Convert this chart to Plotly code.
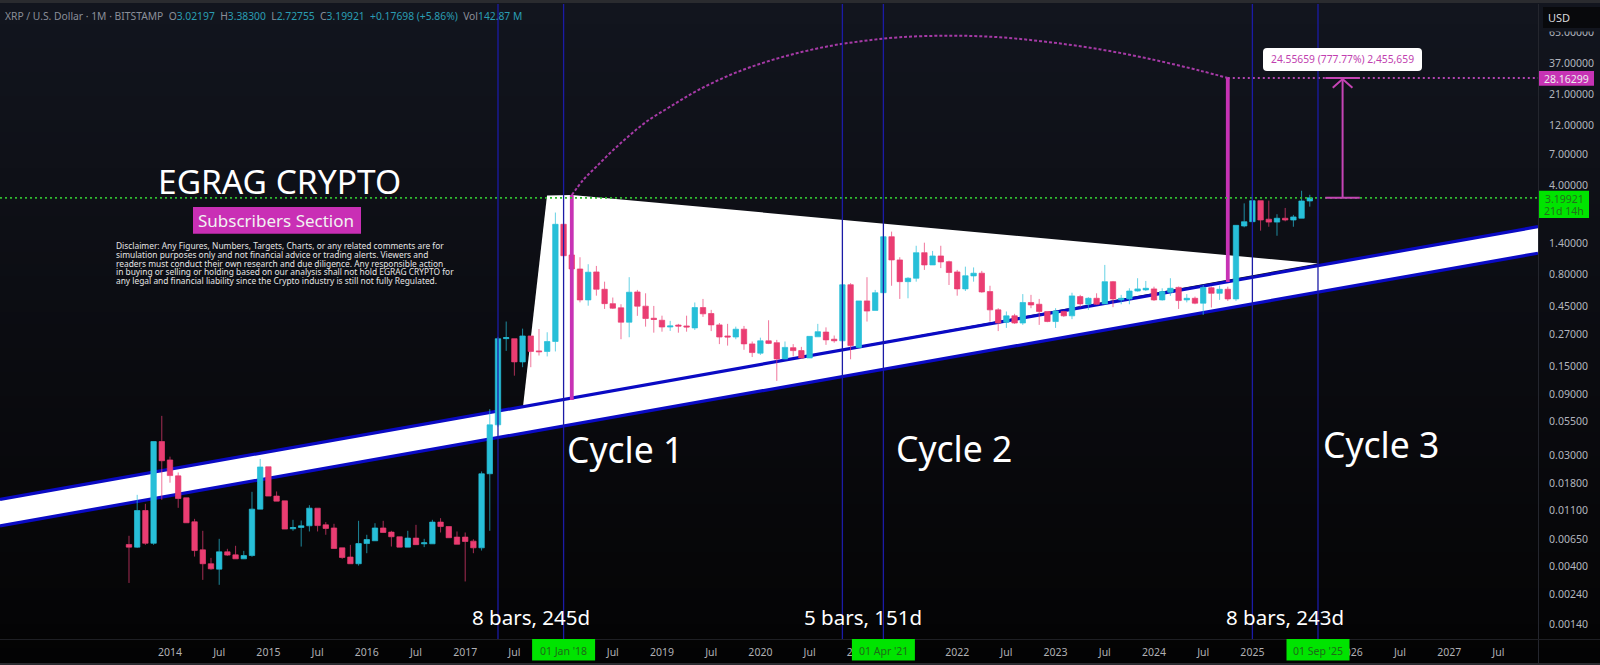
import pandas as pd
import plotly.graph_objects as go

# monthly XRP/USD candles, Aug 2013 to Aug 2025
months = pd.date_range("2013-08-01", "2025-08-01", freq="MS")

opens = [
    .00593, .00565, .01098, .00606, .0384, .0275, .0206, .01384, .00895, .00538, .00418, .00379,
    .00519, .00491, .00457, .00485, .01126, .0243, .01427, .01309, .00788, .00807, .00832, .01146,
    .00847, .00800, .00558, .00472, .00418, .00603, .00634, .008, .00742, .00682, .00565, .00666,
    .006, .006, .0089, .00821, .00678, .00678, .0063, .00558, .0214, .052, .2485, .2485,
    .1629, .261, .199, .197, .236, 1.98, 1.135, .88, .502, .834, .609, .469,
    .435, .335, .58, .448, .36, .347, .307, .318, .313, .302, .437, .392,
    .319, .261, .256, .295, .226, .191, .239, .231, .172, .211, .2, .175,
    .257, .28, .246, .239, .661, .212, .493, .415, .572, 1.581, 1.037, .699,
    .744, 1.183, .947, 1.115, 1.005, .834, .613, .776, .815, .584, .419, .334,
    .376, .33, .479, .464, .407, .339, .407, .376, .533, .464, .517, .467,
    .699, .502, .511, .59, .602, .613, .502, .577, .63, .502, .517, .473,
    .626, .566, .609, .511, 1.92, 2.076, 3.04, 2.172, 2.06, 2.21, 2.14, 2.21,
    3.02197,
]
highs = [
    .00694, .0146, .0124, .0384, .0612, .0292, .0219, .01384, .00944, .0076, .00465, .00657,
    .00548, .00579, .00528, .01542, .028, .0243, .01552, .01309, .00928, .00916, .0121, .01146,
    .0089, .00863, .00558, .00589, .00911, .00707, .00872, .00911, .0076, .00682, .0076, .00847,
    .00657, .00928, .00956, .00821, .00751, .00737, .00652, .0223, .0691, .256, .339, .2485,
    .298, .261, .296, .279, 2.45, 1.98, 1.135, 1.089, .959, .93, .699, .524,
    .464, .758, .602, .566, .45, .377, .343, .325, .377, .479, .511, .419,
    .33, .325, .309, .313, .236, .253, .347, .243, .236, .225, .214, .259,
    .325, .305, .263, .661, .68, .493, .758, .602, 1.581, 1.733, 1.089, .758,
    1.341, 1.418, 1.221, 1.341, 1.023, .865, .918, .905, .85, .649, .432, .407,
    .39, .558, .55, .511, .407, .432, .412, .572, .55, .527, .566, .947,
    .708, .55, .62, .744, .708, .638, .62, .744, .64, .558, .533, .658,
    .64, .651, .638, 1.943, 2.895, 3.41, 3.04, 3.04, 2.377, 2.664, 2.347, 3.64,
    3.383,
]
lows = [
    .00295, .00558, .00589, .00589, .01333, .0182, .01153, .00879, .00476, .00312, .00375, .00285,
    .00482, .00457, .00455, .00474, .01126, .01427, .01302, .00784, .0076, .00571, .00751, .00751,
    .00707, .00551, .00457, .00418, .00404, .00506, .00634, .00737, .00571, .00565, .00565, .00591,
    .00565, .006, .00737, .0067, .00595, .00303, .00506, .00531, .0076, .0501, .199, .1269,
    .148, .148, .183, .18, .197, 1.119, .88, .48, .452, .542, .426, .426,
    .246, .255, .376, .309, .277, .282, .286, .277, .282, .291, .369, .285,
    .225, .219, .246, .203, .178, .185, .225, .1155, .171, .18, .172, .175,
    .257, .222, .231, .239, .171, .212, .339, .415, .572, .649, .511, .517,
    .699, .865, .947, .894, .658, .542, .59, .699, .572, .339, .285, .302,
    .325, .319, .432, .319, .335, .302, .369, .354, .44, .419, .458, .464,
    .44, .464, .464, .584, .59, .493, .496, .54, .426, .48, .464, .382,
    .437, .502, .493, .493, 1.875, 2.076, 1.764, 1.894, 1.608, 2.09, 1.894, 2.21,
    2.72755,
]
closes = [
    .00565, .01098, .00606, .0384, .0271, .0207, .01366, .00879, .00531, .00418, .00381, .00519,
    .00489, .00457, .00485, .01126, .0242, .01427, .01302, .00784, .00807, .00832, .01146, .00835,
    .00793, .00551, .00468, .00418, .00603, .00649, .008, .00737, .00682, .00565, .00666, .00591,
    .00611, .0089, .00821, .0067, .00595, .00626, .00558, .0214, .052, .2485, .2532, .163,
    .261, .197, .196, .236, 1.98, 1.119, .88, .502, .83, .609, .469, .432,
    .335, .577, .448, .358, .352, .307, .313, .312, .307, .437, .39, .319,
    .256, .256, .295, .226, .193, .239, .228, .172, .212, .2, .175, .259,
    .282, .243, .239, .661, .219, .493, .41, .572, 1.581, 1.037, .699, .744,
    1.183, .947, 1.115, 1.0, .825, .613, .778, .815, .58, .419, .33, .376,
    .33, .479, .458, .407, .339, .411, .376, .54, .467, .517, .464, .699,
    .511, .517, .59, .613, .62, .502, .584, .62, .496, .517, .473, .63,
    .566, .609, .511, 1.943, 2.076, 3.04, 2.14, 2.06, 2.21, 2.14, 2.264, 3.025,
    3.19921,
]

# axis ticks, bars are counted in months from Jan 2014
year_ticks = ["2014", "2015", "2016", "2017", "2018", "2019", "2020", "2021", "2022", "2023", "2024", "2025", "2026", "2027"]
price_ticks = [65, 37, 21, 12, 7, 4, 1.4, .8, .45, .27, .15, .09, .055, .03, .018, .011, .0065, .004, .0024, .0014]

# drawings on the chart
time_lines = ["2017-05", "2018-01", "2020-11", "2021-04", "2025-01", "2025-09"]
marked_dates = ["2018-01", "2021-04", "2025-09"]
marked_labels = ["01 Jan '18", "01 Apr '21", "01 Sep '25"]
channel_x = ["left", "right"]
channel_top = [.01346, 1.897]
channel_bottom = [.00831, 1.171]
wedge_bars = [43.05, 45.98, 49, 140]
wedge_prices = [.0724, 3.34, 3.37, .973]
arc_bars = [49, 50.4, 52, 54.06, 56.1, 58.1, 61, 64.2, 68.3, 72.4, 76.4, 80.5, 84.5, 89, 95.1, 101.2, 107.3, 113.4, 119.5, 125.6, 129]
arc_prices = [3.37, 4.43, 5.64, 7.63, 10.02, 12.75, 16.74, 22.25, 29.75, 37.2, 44.1, 50.4, 55.1, 59, 60.7, 59, 53.9, 47.4, 39.8, 32.2, 28.16]
spike_dates = ["2018-02", "2024-10"]
spike_lows = [.0818, .696]
spike_highs = [3.37, 28.16]
last_close = 3.19921
target_price = 28.16299
arrow_date = "2025-12"

disclaimer = [
    "Disclaimer: Any Figures, Numbers, Targets, Charts, or any related comments are for",
    "simulation purposes only and not financial advice or trading alerts. Viewers and",
    "readers must conduct their own research and due diligence. Any responsible action",
    "in buying or selling or holding based on our analysis shall not hold EGRAG CRYPTO for",
    "any legal and financial liability since the Crypto industry is still not fully Regulated.",
]

TEAL = "#27bfd8"
RED = "#ea3d72"
PINK = "#c733b5"
LIME = "#00e400"
FONT = "Noto Sans"

# plot area in page pixels
LEFT, RIGHT, TOP, BOTTOM = 0, 1538, 4, 639
X_RANGE = [-20.73, 166.83]
Y_RANGE = [-2.972, 2.033]


def barOf(date):
    stamp = pd.Timestamp(date)
    return (stamp.year - 2014) * 12 + stamp.month - 1


def px(x):
    return (x - LEFT) / (RIGHT - LEFT)


def py(y):
    return (BOTTOM - y) / (BOTTOM - TOP)


def addText(fig, x, y, text, size, color="#ffffff", anchor="center", family=FONT):
    fig.add_annotation(
        xref="paper", yref="paper", x=px(x), y=py(y), text=text, showarrow=False,
        xanchor=anchor, yanchor="middle", font=dict(family=family, size=size, color=color),
    )


def addBox(fig, x0, y0, x1, y1, color, layer="above"):
    fig.add_shape(
        type="rect", xref="paper", yref="paper", layer=layer,
        x0=px(x0), x1=px(x1), y0=py(y0), y1=py(y1), fillcolor=color, line=dict(width=0),
    )


def addRoundBox(fig, x0, y0, x1, y1, r, color):
    path = (
        f"M {px(x0 + r)} {py(y0)} L {px(x1 - r)} {py(y0)} Q {px(x1)} {py(y0)} {px(x1)} {py(y0 + r)} "
        f"L {px(x1)} {py(y1 - r)} Q {px(x1)} {py(y1)} {px(x1 - r)} {py(y1)} "
        f"L {px(x0 + r)} {py(y1)} Q {px(x0)} {py(y1)} {px(x0)} {py(y1 - r)} "
        f"L {px(x0)} {py(y0 + r)} Q {px(x0)} {py(y0)} {px(x0 + r)} {py(y0)} Z"
    )
    fig.add_shape(type="path", xref="paper", yref="paper", layer="above", path=path, fillcolor=color, line=dict(width=0))


def addBackground(fig):
    stops = [(0, (18, 21, 30)), (330, (11, 12, 17)), (560, (6, 6, 8)), (665, (3, 3, 3))]
    for y in range(0, 665, 12):
        for (y0, c0), (y1, c1) in zip(stops, stops[1:]):
            if y0 <= y < y1:
                t = (y - y0) / (y1 - y0)
                rgb = [round(a + (b - a) * t) for a, b in zip(c0, c1)]
        addBox(fig, 0, y, 1600, y + 12, f"rgb({rgb[0]},{rgb[1]},{rgb[2]})", layer="below")


def line(x, y, color, width, dash="solid", shape="linear"):
    # everything but the white areas goes on the overlaid axes, above the candles
    return go.Scatter(
        x=x, y=y, mode="lines", hoverinfo="skip", xaxis="x2", yaxis="y2",
        line=dict(color=color, width=width, dash=dash, shape=shape),
    )


bars = [barOf(m) for m in months]
ends = {"left": X_RANGE[0], "right": X_RANGE[1]}
channel_bars = [ends[c] for c in channel_x]

fig = go.Figure()
addBackground(fig)

# white channel, wedge and blue lines on the base axes, candles draw over them
fig.add_trace(go.Scatter(
    x=channel_bars + channel_bars[::-1], y=channel_top + channel_bottom[::-1],
    mode="none", fill="toself", fillcolor="#ffffff", hoverinfo="skip",
))
fig.add_trace(go.Scatter(
    x=wedge_bars, y=wedge_prices, mode="none", fill="toself", fillcolor="#ffffff", hoverinfo="skip",
))
for prices in [channel_top, channel_bottom]:
    fig.add_trace(go.Scatter(
        x=channel_bars, y=prices, mode="lines", hoverinfo="skip", line=dict(color="#0a0ac4", width=3.2),
    ))

fig.add_trace(go.Candlestick(
    x=bars, open=opens, high=highs, low=lows, close=closes, whiskerwidth=0,
    xaxis="x2", yaxis="y2",
    increasing=dict(line=dict(color="rgba(39,191,216,0.7)", width=1), fillcolor=TEAL),
    decreasing=dict(line=dict(color="rgba(234,61,114,0.7)", width=1), fillcolor=RED),
    hoverinfo="skip",
))

fig.add_trace(line(arc_bars, arc_prices, "#a63aa6", 2, dash="3px,2px", shape="spline"))
for date, low, high in zip(spike_dates, spike_lows, spike_highs):
    fig.add_trace(line([barOf(date), barOf(date)], [low, high], PINK, 3.8))

# dotted price lines
fig.add_trace(line(X_RANGE, [last_close, last_close], "#2fbb2f", 1.8, dash="2px,3px"))
fig.add_trace(line([barOf(spike_dates[1]), X_RANGE[1]], [target_price, target_price], "#b044b0", 1.8, dash="2px,3px"))

# measuring arrow
arrow = barOf(arrow_date)
fig.add_trace(line([arrow, arrow], [last_close, target_price], "#c544b5", 2))
fig.add_trace(line([arrow - 2.1, arrow + 2.1], [last_close, last_close], "#c544b5", 2))
fig.add_trace(line([arrow - 2.1, arrow + 2.1], [target_price, target_price], "#c544b5", 2))
fig.add_trace(line([arrow - 1.2, arrow, arrow + 1.2], [23.6, 27.6, 23.6], "#c544b5", 2))

for date in time_lines:
    fig.add_shape(
        type="line", xref="x", yref="paper", layer="above",
        x0=barOf(date), x1=barOf(date), y0=0, y1=1, line=dict(color="#1b1ba6", width=1.3),
    )

# frame of the axes
addBox(fig, RIGHT, 4, RIGHT + 1, 663, "#24262e")
addBox(fig, 0, BOTTOM, 1600, BOTTOM + 1, "#1e1f24")
addBox(fig, 0, 0, 1600, 3, "#2a2b2f")
addBox(fig, 0, 663, 1600, 665, "#2a2b2f")

# top right corner hides the highest tick
addBox(fig, RIGHT + 1, 3, 1600, 31.5, "#12151e")
addBox(fig, 1543, 7, 1600, 28, "#08090c")
addText(fig, 1559, 17.5, "USD", 11, "#d8d8dc", family=FONT)

# price labels on the axis
addBox(fig, 1539, 71, 1594, 85.7, PINK)
addText(fig, 1566.5, 78.5, f"{target_price:.5f}", 10.5, "#ececec")
addBox(fig, 1539, 190.7, 1589, 218, LIME)
addText(fig, 1564, 198.5, f"{last_close:.5f}", 10.5, "#23701c")
addText(fig, 1564, 210.5, "21d 14h", 10.5, "#23701c")

# green dates on the time axis
for date, label in zip(marked_dates, marked_labels):
    center = 170 + 8.2 * barOf(date)
    addBox(fig, center - 31.5, 639, center + 31.5, 660.5, LIME)
    addText(fig, center, 650.5, label, 10.5, "#1f6b18")

# header line
grey = "#8b8f99"
val = "#2a9db3"
parts = [
    ("XRP / U.S. Dollar · 1M · BITSTAMP\u00a0\u00a0", grey), ("O", grey), ("3.02197\u00a0\u00a0", val),
    ("H", grey), ("3.38300\u00a0\u00a0", val), ("L", grey), ("2.72755\u00a0\u00a0", val),
    ("C", grey), ("3.19921\u00a0\u00a0", val), ("+0.17698 (+5.86%)\u00a0\u00a0", val),
    ("Vol", grey), ("142.87\u00a0M", val),
]
header = "".join(f'<span style="color:{c}">{t}</span>' for t, c in parts)
addText(fig, 3, 16.5, header, 10.3, anchor="left")

addText(fig, 279, 180.5, "EGRAG CRYPTO", 33.5)
addBox(fig, 193, 207, 361, 233.7, "#c92fb5")
addText(fig, 275.5, 220, "Subscribers Section", 17, "#f2f2f2")
for i, text in enumerate(disclaimer):
    addText(fig, 113.5, 245.3 + i * 8.85, text, 8.4, "#e4e4e4", anchor="left")

addText(fig, 624.5, 449, "Cycle 1", 35.5)
addText(fig, 954, 448, "Cycle 2", 35.5)
addText(fig, 1381, 444, "Cycle 3", 35.5)
addText(fig, 530.5, 617, "8 bars, 245d", 20.5)
addText(fig, 863, 617, "5 bars, 151d", 20.5)
addText(fig, 1285, 617, "8 bars, 243d", 20.5)

addRoundBox(fig, 1263, 48, 1422, 71, 4, "#ffffff")
addText(fig, 1342.5, 59, "24.55659 (777.77%) 2,455,659", 10.3, "#c13fb0")

# the green date boxes fully hide these ticks, so they are left out
hidden_ticks = [48, 90, 138]
tick_bars = []
tick_text = []
for i, year in enumerate(year_ticks):
    for bar, label in [(i * 12, year), (i * 12 + 6, "Jul")]:
        if bar not in hidden_ticks:
            tick_bars.append(bar)
            tick_text.append(label)

fig.update_layout(
    width=1600, height=665, autosize=False,
    margin=dict(l=LEFT, r=1600 - RIGHT, t=TOP, b=665 - BOTTOM, pad=0),
    paper_bgcolor="#050506", plot_bgcolor="rgba(0,0,0,0)",
    showlegend=False, boxgap=0.12, boxgroupgap=0.25, hovermode=False,
    font=dict(family=FONT, color="#b2b5be", size=10.5),
    xaxis2=dict(overlaying="x", range=X_RANGE, visible=False, rangeslider=dict(visible=False)),
    yaxis2=dict(overlaying="y", type="log", range=Y_RANGE, visible=False),
)
fig.update_xaxes(
    range=X_RANGE, rangeslider_visible=False, showgrid=False, zeroline=False, showline=False,
    tickmode="array", tickvals=tick_bars, ticktext=tick_text,
    ticks="outside", ticklen=3, tickcolor="rgba(0,0,0,0)", tickfont=dict(size=10.5, color="#b0b0b4"),
    selector=dict(overlaying=None),
)
fig.update_yaxes(
    type="log", side="right", range=Y_RANGE, showgrid=False, zeroline=False, showline=False,
    tickmode="array", tickvals=price_ticks, ticktext=[f"{p:.5f}" for p in price_ticks],
    ticks="outside", ticklen=8, tickcolor="rgba(0,0,0,0)", tickfont=dict(size=10.5, color="#b2b5be"),
    selector=dict(overlaying=None),
)

# the page has a default margin that would push the chart out of the window
fig.write_html("out.html", config=dict(displayModeBar=False), post_script="document.body.style.margin='0';")
